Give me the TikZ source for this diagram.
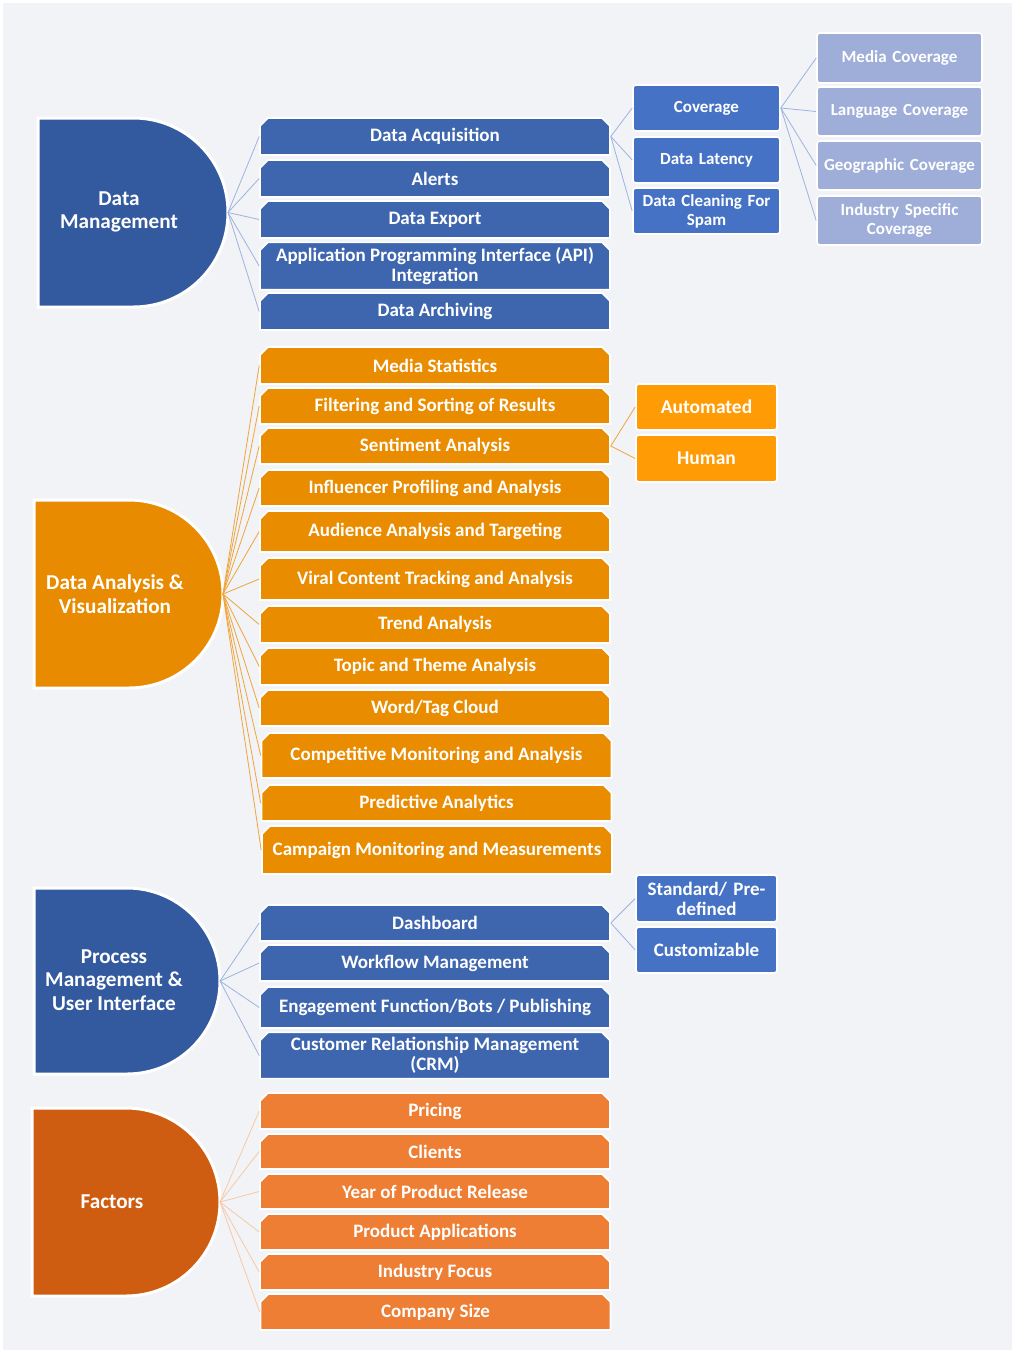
\documentclass[tikz,border=0pt]{standalone}
\usepackage{fontspec}
\setmainfont{Carlito}
\usetikzlibrary{shapes.misc}
\definecolor{bgc}{HTML}{F1F3F7}
\definecolor{dmD}{HTML}{335A9E}
\definecolor{bbar}{HTML}{3E66AF}
\definecolor{bsub}{HTML}{4572C4}
\definecolor{blite}{HTML}{9EAED9}
\definecolor{oD}{HTML}{E88B00}
\definecolor{obar}{HTML}{EA8C00}
\definecolor{osub}{HTML}{FF9B05}
\definecolor{fD}{HTML}{CE5D12}
\definecolor{fbar}{HTML}{ED7E33}
\definecolor{bline}{HTML}{9DB3DE}
\definecolor{oline}{HTML}{F0A43A}
\definecolor{fline}{HTML}{F8C9A6}
\tikzset{
  box/.style={chamfered rectangle, chamfered rectangle corners={north west,north east},
    chamfered rectangle xsep=4pt, chamfered rectangle ysep=4pt,
    draw=white, line width=1.6pt, text=white, align=center, inner sep=1pt,
    font=\bfseries\fontsize{19}{20}\selectfont},
  bbox/.style={box, fill=bbar, minimum width=350pt},
  obox/.style={box, fill=obar, minimum width=350pt},
  fbox/.style={box, fill=fbar, minimum width=350pt},
  sub/.style={rectangle, rounded corners=3pt, draw=white, line width=1.6pt, text=white,
    align=center, inner sep=1pt, font=\bfseries\fontsize{17}{19}\selectfont},
  bsubbox/.style={sub, fill=bsub, minimum width=147pt, text width=142pt},
  litebox/.style={sub, fill=blite, minimum width=165pt, text width=160pt},
  osubbox/.style={sub, fill=osub, minimum width=141pt, font=\bfseries\fontsize{19.5}{20}\selectfont},
  psubbox/.style={sub, fill=bsub, minimum width=141pt, text width=138pt, font=\bfseries\fontsize{19}{20}\selectfont},
  dtext/.style={text=white, align=center, font=\bfseries\fontsize{21.2}{23.5}\selectfont},
  bconn/.style={draw=bline, line width=0.8pt},
  oconn/.style={draw=oline, line width=0.8pt},
  fconn/.style={draw=fline, line width=0.8pt},
}
\newcommand\dshape[5]{%
  \pgfmathsetmacro\dr{(#4-#2)/2}%
  \pgfmathsetmacro\dxs{#3-\dr}%
  \filldraw[fill=#5, draw=white, line width=3pt] (#1,#2) -- (\dxs,#2)
    arc[start angle=90, end angle=-90, radius=\dr pt] -- (#1,#4) -- cycle;}
\begin{document}
\begin{tikzpicture}[x=1pt,y=-1pt]
\useasboundingbox (0,0) rectangle (1014,1352);
\fill[white] (0,0) rectangle (1014,1352);
\fill[bgc] (3,3) rectangle (1012,1350);

% ---------- Data Management ----------
\dshape{38}{118}{228}{307}{dmD}
\node[dtext] (dm) at (119,212) {Data\\Management};
\coordinate (dmtip) at (228,212.5);
\node[bbox, minimum height=37pt] (b1) at (435,136.5) {Data Acquisition};
\node[bbox, minimum height=37pt] (b2) at (435,178.5) {Alerts};
\node[bbox, minimum height=37pt] (b3) at (435,219.5) {Data Export};
\node[bbox, minimum height=46pt] (b4) at (435,266) {Application Programming Interface (API)\\Integration};
\node[bbox, minimum height=37pt] (b5) at (435,311.5) {Data Archiving};
\foreach \n in {b1,b2,b3,b4,b5} \draw[bconn] (dmtip) -- (\n.west);

\node[bsubbox, minimum height=46pt] (c1) at (706.5,108) {Coverage};
\node[bsubbox, minimum height=46pt] (c2) at (706.5,160) {Data Latency};
\node[bsubbox, minimum height=46pt] (c3) at (706.5,211) {Data Cleaning For\\Spam};
\foreach \n in {c1,c2,c3} \draw[bconn] (b1.east) -- (\n.west);

\node[litebox, minimum height=50pt] (l1) at (899.5,58) {Media Coverage};
\node[litebox, minimum height=49pt] (l2) at (899.5,111.5) {Language Coverage};
\node[litebox, minimum height=49pt] (l3) at (899.5,165.5) {Geographic Coverage};
\node[litebox, minimum height=49pt] (l4) at (899.5,220.5) {Industry Specific\\Coverage};
\foreach \n in {l1,l2,l3,l4} \draw[bconn] (c1.east) -- (\n.west);

% ---------- Data Analysis ----------
\dshape{34}{500}{223}{688}{oD}
\node[dtext] (da) at (115,594) {Data Analysis \&\\Visualization};
\coordinate (datip) at (223,594);
\node[obox, minimum height=37pt] (o1) at (435,365.5) {Media Statistics};
\node[obox, minimum height=36pt] (o2) at (435,406) {Filtering and Sorting of Results};
\node[obox, minimum height=36pt] (o3) at (435,446) {Sentiment Analysis};
\node[obox, minimum height=36pt] (o4) at (435,488) {Influencer Profiling and Analysis};
\node[obox, minimum height=41pt] (o5) at (435,531.5) {Audience Analysis and Targeting};
\node[obox, minimum height=42pt] (o6) at (435,579) {Viral Content Tracking and Analysis};
\node[obox, minimum height=37pt] (o7) at (435,624.5) {Trend Analysis};
\node[obox, minimum height=37pt] (o8) at (435,666.5) {Topic and Theme Analysis};
\node[obox, minimum height=36pt] (o9) at (435,708) {Word/Tag Cloud};
\node[obox, minimum height=45pt] (o10) at (436.5,755.5) {Competitive Monitoring and Analysis};
\node[obox, minimum height=36pt] (o11) at (436.5,803) {Predictive Analytics};
\node[obox, minimum height=48pt] (o12) at (437,850) {Campaign Monitoring and Measurements};
\foreach \n in {o1,o2,o3,o4,o5,o6,o7,o8,o9,o10,o11,o12} \draw[oconn] (datip) -- (\n.west);

\node[osubbox, minimum height=46pt] (s1) at (706.5,407) {Automated};
\node[osubbox, minimum height=47pt] (s2) at (706.5,458.5) {Human};
\foreach \n in {s1,s2} \draw[oconn] (o3.east) -- (\n.west);

% ---------- Process Management ----------
\dshape{34}{888}{220}{1074}{dmD}
\node[dtext] (pm) at (114,980) {Process\\Management \&\\User Interface};
\coordinate (pmtip) at (220,981);
\node[bbox, minimum height=36pt] (p1) at (435,923) {Dashboard};
\node[bbox, minimum height=36pt] (p2) at (435,963) {Workflow Management};
\node[bbox, minimum height=41pt] (p3) at (435,1007.5) {Engagement Function/Bots / Publishing};
\node[bbox, minimum height=45pt] (p4) at (435,1055.5) {Customer Relationship Management\\(CRM)};
\foreach \n in {p1,p2,p3,p4} \draw[bconn] (pmtip) -- (\n.west);

\node[psubbox, minimum height=47pt] (q1) at (706.5,898.5) {Standard/ Pre-\\defined};
\node[psubbox, minimum height=46pt] (q2) at (706.5,950) {Customizable};
\foreach \n in {q1,q2} \draw[bconn] (p1.east) -- (\n.west);

% ---------- Factors ----------
\dshape{32}{1108}{220}{1296}{fD}
\node[dtext] (fa) at (112,1202) {Factors};
\coordinate (fatip) at (220,1202);
\node[fbox, minimum height=36pt] (f1) at (435,1111) {Pricing};
\node[fbox, minimum height=35pt] (f2) at (435,1151.5) {Clients};
\node[fbox, minimum height=35pt] (f3) at (435,1191.5) {Year of Product Release};
\node[fbox, minimum height=36pt] (f4) at (435,1232) {Product Applications};
\node[fbox, minimum height=36pt] (f5) at (435,1272) {Industry Focus};
\node[fbox, minimum height=36pt] (f6) at (435.5,1312) {Company Size};
\foreach \n in {f1,f2,f3,f4,f5,f6} \draw[fconn] (fatip) -- (\n.west);
\end{tikzpicture}
\end{document}
